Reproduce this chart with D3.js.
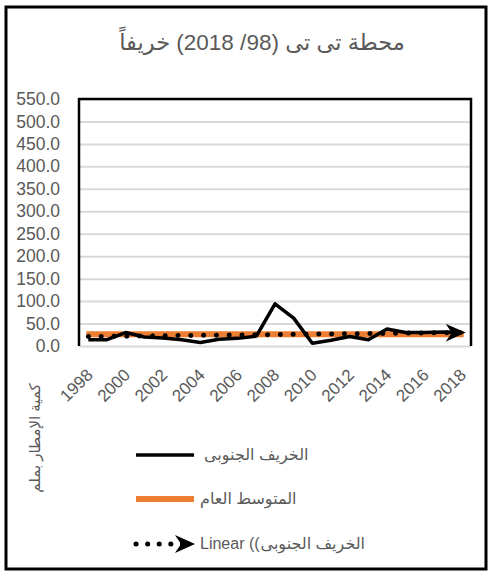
<!DOCTYPE html>
<html>
<head>
<meta charset="utf-8">
<script src="https://cdn.jsdelivr.net/npm/d3@7"></script>
<style>
  body { margin: 0; background: #fff; }
  text { font-family: "Liberation Sans", Arial, "DejaVu Sans", sans-serif; fill: #595959; }
</style>
</head>
<body>
<div id="chart"></div>
<script>
// chart data
var years = [1998, 1999, 2000, 2001, 2002, 2003, 2004, 2005, 2006, 2007, 2008,
             2009, 2010, 2011, 2012, 2013, 2014, 2015, 2016, 2017, 2018];
var rainfall = [14, 14, 30, 20, 18, 14, 8, 15, 17, 22, 94,
                62, 6, 13, 21, 14, 38, 30, 30, 31, 30];
var meanValue = 26;
var trendEnds = [21, 30];   // linear trend at 1998 and 2018
var yTicks = [0, 50, 100, 150, 200, 250, 300, 350, 400, 450, 500, 550];
var xTicks = [1998, 2000, 2002, 2004, 2006, 2008, 2010, 2012, 2014, 2016, 2018];

var titleText = "محطة تى تى (98/ 2018) خريفاً";
var yTitle = "كمية الإمطار بملم";
var seriesName = "الخريف الجنوبى";
var meanName = "المتوسط العام";
var trendPrefix = "Linear ((";

var W = 488, H = 575;
var plot = {left: 79, right: 471, top: 99, bottom: 346};

var svg = d3.select("#chart")
  .append("svg")
    .attr("width", W)
    .attr("height", H);

// outer frame
svg.append("rect")
  .attr("x", 6).attr("y", 7)
  .attr("width", 480).attr("height", 562)
  .attr("fill", "none")
  .attr("stroke", "#000")
  .attr("stroke-width", 3);

svg.append("text")
  .attr("x", 262).attr("y", 50)
  .attr("text-anchor", "middle")
  .attr("direction", "rtl")
  .style("font-size", "22.5px")
  .text(titleText);

var x = d3.scalePoint()
  .domain(years)
  .range([plot.left, plot.right])
  .padding(0.5);

var y = d3.scaleLinear()
  .domain([0, 550])
  .range([plot.bottom, plot.top]);

// gridlines
svg.append("g")
  .attr("transform", "translate(" + plot.left + ",0)")
  .call(d3.axisLeft(y).tickValues(yTicks).tickSize(-(plot.right - plot.left)).tickFormat(""))
  .call(function(g) { g.select(".domain").remove(); })
  .selectAll("line")
    .attr("stroke", "#d9d9d9")
    .attr("stroke-width", 2);

// plot area border (top, left, right)
svg.append("path")
  .attr("d", "M" + plot.left + "," + plot.bottom + "V" + plot.top + "H" + plot.right + "V" + plot.bottom)
  .attr("fill", "none")
  .attr("stroke", "#000")
  .attr("stroke-width", 2.5);

// y axis labels
var yAxis = svg.append("g")
  .attr("transform", "translate(" + plot.left + ",0)")
  .call(d3.axisLeft(y).tickValues(yTicks).tickSize(0).tickPadding(19).tickFormat(d3.format(".1f")));
yAxis.select(".domain").remove();
yAxis.selectAll("text")
  .attr("font-family", null)
  .style("font-size", "17.5px")
  .attr("fill", "#595959");

// x axis labels, rotated
var xAxis = svg.append("g")
  .attr("transform", "translate(0," + plot.bottom + ")")
  .call(d3.axisBottom(x).tickValues(xTicks).tickSize(0));
xAxis.select(".domain").remove();
xAxis.selectAll("text")
  .attr("font-family", null)
  .style("font-size", "17px")
  .attr("fill", "#595959")
  .attr("text-anchor", "end")
  .attr("x", 5).attr("y", 30).attr("dy", 0)
  .attr("transform", "rotate(-45,5,30)");

svg.append("text")
  .attr("transform", "translate(40,438) rotate(-90)")
  .attr("text-anchor", "middle")
  .style("font-size", "15px")
  .text(yTitle);

// mean line
svg.append("line")
  .attr("x1", x(years[0]) - 2).attr("x2", x(years[years.length - 1]) + 2)
  .attr("y1", y(meanValue)).attr("y2", y(meanValue))
  .attr("stroke", "#ed7d31")
  .attr("stroke-width", 6);

// series line
var line = d3.line()
  .x(function(d, i) { return x(years[i]); })
  .y(function(d) { return y(d); });

svg.append("path")
  .datum(rainfall)
  .attr("d", line)
  .attr("fill", "none")
  .attr("stroke", "#000")
  .attr("stroke-width", 3.5)
  .attr("stroke-linejoin", "round");

// arrow head for the trend line
svg.append("defs").append("marker")
  .attr("id", "arrow")
  .attr("viewBox", "0 0 20 18")
  .attr("refX", 16).attr("refY", 9)
  .attr("markerWidth", 20).attr("markerHeight", 18)
  .attr("markerUnits", "userSpaceOnUse")
  .attr("orient", "auto")
  .append("path")
    .attr("d", "M0,0 L20,9 L0,18 L6,9 Z")
    .attr("fill", "#000");

svg.append("path")
  .datum([[years[0], trendEnds[0]], [years[years.length - 1], trendEnds[1]]])
  .attr("d", d3.line().x(function(d) { return x(d[0]); }).y(function(d) { return y(d[1]); }))
  .attr("fill", "none")
  .attr("stroke", "#000")
  .attr("stroke-width", 5)
  .attr("stroke-linecap", "round")
  .attr("stroke-dasharray", "0.1 12.7")
  .attr("marker-end", "url(#arrow)");

// legend
var lg = svg.append("g");

lg.append("line")
  .attr("x1", 136).attr("x2", 194).attr("y1", 455).attr("y2", 455)
  .attr("stroke", "#000").attr("stroke-width", 3.5);
lg.append("text")
  .attr("x", 204).attr("y", 460)
  .style("font-size", "16px")
  .text(seriesName);

lg.append("line")
  .attr("x1", 136).attr("x2", 194).attr("y1", 499).attr("y2", 499)
  .attr("stroke", "#ed7d31").attr("stroke-width", 6);
lg.append("text")
  .attr("x", 200).attr("y", 504)
  .style("font-size", "16px")
  .text(meanName);

lg.append("line")
  .attr("x1", 136).attr("x2", 191).attr("y1", 544).attr("y2", 544)
  .attr("stroke", "#000").attr("stroke-width", 5)
  .attr("stroke-linecap", "round").attr("stroke-dasharray", "0.1 11.5")
  .attr("marker-end", "url(#arrow)");
var pre = lg.append("text")
  .attr("x", 200).attr("y", 549)
  .style("font-size", "16px")
  .text(trendPrefix);
lg.append("text")
  .attr("x", 200 + pre.node().getComputedTextLength() + 1).attr("y", 549)
  .style("font-size", "16px")
  .text(seriesName);
</script>
</body>
</html>
